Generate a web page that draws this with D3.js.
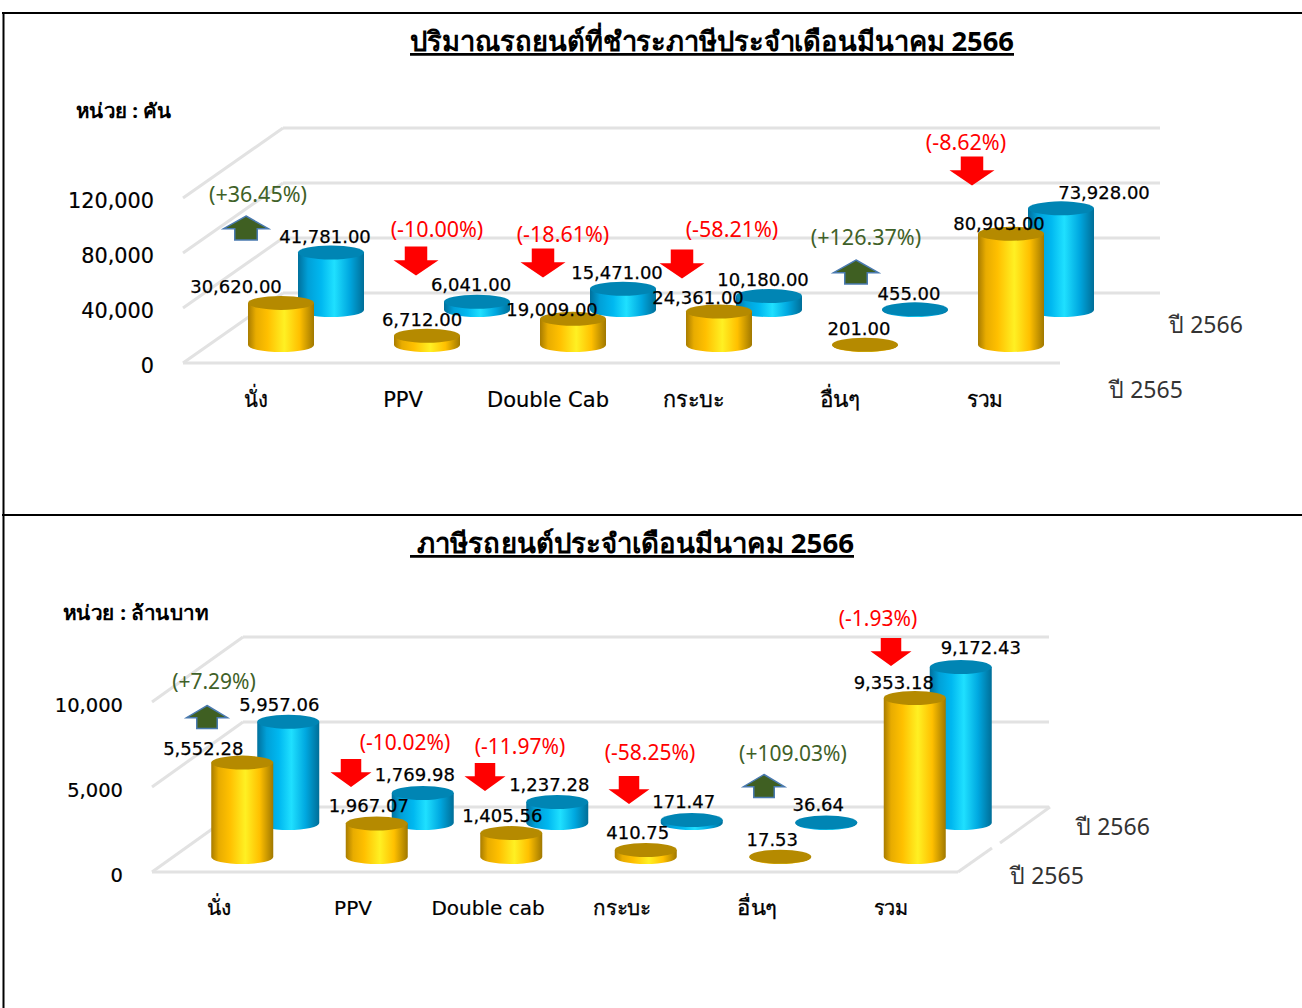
<!DOCTYPE html>
<html><head><meta charset="utf-8"><script src="https://cdn.jsdelivr.net/npm/d3@7"></script>
<style>html,body{margin:0;padding:0;background:#fff}svg{display:block}text{font-family:"Noto Sans",sans-serif}</style></head><body><div id="c"></div>
<script>
const cats1=["นั่ง","PPV","Double Cab","กระบะ","อื่นๆ","รวม"];
const y2565a=[30620,6712,19009,24361,201,80903];
const y2566a=[41781,6041,15471,10180,455,73928];
const lab65a=["30,620.00","6,712.00","19,009.00","24,361.00","201.00","80,903.00"];
const lab66a=["41,781.00","6,041.00","15,471.00","10,180.00","455.00","73,928.00"];
const pctA=["(+36.45%)","(-10.00%)","(-18.61%)","(-58.21%)","(+126.37%)","(-8.62%)"];
const ticksA=[0,40000,80000,120000];
const gridA=[0,40000,80000,120000];
const cats2=["นั่ง","PPV","Double cab","กระบะ","อื่นๆ","รวม"];
const y2565b=[5552.28,1967.07,1405.56,410.75,17.53,9353.18];
const y2566b=[5957.06,1769.98,1237.28,171.47,36.64,9172.43];
const lab65b=["5,552.28","1,967.07","1,405.56","410.75","17.53","9,353.18"];
const lab66b=["5,957.06","1,769.98","1,237.28","171.47","36.64","9,172.43"];
const pctB=["(+7.29%)","(-10.02%)","(-11.97%)","(-58.25%)","(+109.03%)","(-1.93%)"];
const ticksB=[0,5000,10000];
const gridB=[0,5000,10000];
const DV='"DejaVu Sans",sans-serif';
const svg=d3.select("#c").append("svg").attr("width",1302).attr("height",1008);
const defs=svg.append("defs");
function grad(id,st){const g=defs.append("linearGradient").attr("id",id);st.forEach(([o,c])=>g.append("stop").attr("offset",o).attr("stop-color",c));}
grad("gold",[[0,"#a87c00"],[.12,"#e8ac00"],[.3,"#ffc000"],[.55,"#fff023"],[.78,"#ffc000"],[1,"#a07800"]]);
grad("blue",[[0,"#00709c"],[.15,"#00a0d8"],[.35,"#00b8f0"],[.55,"#1fe0ff"],[.78,"#00a8e0"],[1,"#006e98"]]);
[[2,13,1302,13],[2,515,1302,515],[3.5,13,3.5,1008]].forEach(l=>svg.append("line").attr("x1",l[0]).attr("y1",l[1]).attr("x2",l[2]).attr("y2",l[3]).attr("stroke","#000").attr("stroke-width",2));
function T(x,y,t,o={}){
  const e=svg.append("text").attr("x",x).attr("y",y).attr("text-anchor",o.a||"middle").attr("font-size",o.s||20).attr("font-weight",o.w||400).attr("fill",o.f||"#000").attr("text-decoration",o.d||null).attr("xml:space","preserve").text(t);
  if(o.ff)e.style("font-family",o.ff);
  if(o.len)e.attr("textLength",o.len).attr("lengthAdjust","spacingAndGlyphs");
  if(o.bold)e.attr("stroke","#000").attr("stroke-width",o.bold);
  return e;
}
function arrow(cx,cy,up,w,hUp,hDown){
  const g=svg.append("path");const h=up?hUp:hDown,hw=w/2,sw=w/4,hh=h*0.53;
  const s=up?-1:1;
  const tip=cy+s*h/2,base=tip-s*hh,tail=cy-s*h/2;
  g.attr("d",d3.line()([[cx,tip],[cx+hw,base],[cx+sw,base],[cx+sw,tail],[cx-sw,tail],[cx-sw,base],[cx-hw,base]])+"Z");
  if(up)g.attr("fill","#3f5f22").attr("stroke","#4a7ab0").attr("stroke-width",1.5);else g.attr("fill","#ff0000");
}
const GRID="#e2e2e2";
function chart(c){
  const y=d3.scaleLinear().domain([0,c.tickStep]).range([c.floor,c.floor-c.step]);
  const h=v=>y(0)-y(v);
  const x=d3.scaleBand().domain(d3.range(6)).range([c.x0,c.x0+c.band*6]);
  const cx=i=>x(i)+x.bandwidth()/2;
  c.gridVals.forEach(v=>{
    const yy=y(v);
    const gl=svg.append("g").attr("fill","none").attr("stroke",GRID).attr("stroke-width",3);
    gl.append("line").attr("x1",c.left+c.dx).attr("x2",c.right+c.dx).attr("y1",yy-c.dy).attr("y2",yy-c.dy);
    gl.append("line").attr("x1",c.left).attr("x2",c.left+c.dx).attr("y1",yy).attr("y2",yy-c.dy);
  });
  svg.append("line").attr("x1",c.left).attr("x2",c.right).attr("y1",y(0)).attr("y2",y(0)).attr("stroke",GRID).attr("stroke-width",3);
  (c.rightSide||[]).forEach(s=>svg.append("path").attr("d",d3.line()(s)).attr("fill","none").attr("stroke",GRID).attr("stroke-width",3));
  c.ticks.forEach(v=>T(c.tickX,y(v)+c.tickDy,d3.format(",")(v),{a:"end",s:c.tickS,ff:DV,bold:.2}));
  function cyl(px,base,v,fill,top){
    const H=h(v),r=c.r,ry=c.ry;
    svg.append("path").attr("fill",`url(#${fill})`).attr("d",`M${px-r},${base-H}L${px-r},${base}A${r},${ry} 0 0 0 ${px+r},${base}L${px+r},${base-H}Z`);
    svg.append("ellipse").attr("cx",px).attr("cy",base-H).attr("rx",r).attr("ry",ry).attr("fill",top);
  }
  d3.range(6).forEach(i=>cyl(cx(i)+c.off,c.floorB-c.dyB,c.v66[i],"blue","#0085b4"));
  d3.range(6).forEach(i=>cyl(cx(i),c.floorB,c.v65[i],"gold","#b58a00"));
  d3.range(6).forEach(i=>{
    T(cx(i)+c.l65[i][0],c.l65[i][1],c.lab65[i],{s:c.labS,ff:DV,bold:.25});
    T(cx(i)+c.off+c.l66[i][0],c.l66[i][1],c.lab66[i],{s:c.labS,ff:DV,bold:.25});
    const latin=/^[A-Za-z ]+$/.test(c.cats[i]);
    T(c.catX[i],c.catY,c.cats[i],latin?{s:c.catS,ff:DV,bold:.2}:{s:c.catS+1,len:c.catLen[i],bold:.3});
    const up=c.pct[i][1]=="+";
    T(c.pctX[i],c.pctY[i],c.pct[i],{s:c.pctS,f:up?"#3f6128":"#ff0000"});
    arrow(c.arrX[i],c.arrY[i],up,c.arrW,c.hUp,c.hDown);
  });
}
T(712,51,"ปริมาณรถยนต์ที่ชำระภาษีประจำเดือนมีนาคม 2566",{s:27.5,w:700,d:"underline",len:604});
T(76,118,"หน่วย : คัน",{a:"start",s:20,w:700,len:95});
T(1206,333,"ปี 2566",{s:23,f:"#333"});
T(1146,398,"ปี 2565",{s:23,f:"#333"});
chart({tickStep:40000,floor:363,step:55,x0:208,band:146,off:50,left:183,right:1060,dx:100,dy:70,
 gridVals:gridA,ticks:ticksA,tickX:154,tickDy:10,tickS:20.8,floorB:345,dyB:35,r:33,ry:7,
 v65:y2565a,v66:y2566a,lab65:lab65a,lab66:lab66a,cats:cats1,pct:pctA,labS:18,catS:21,pctS:21.5,
 l65:[[-45,293],[-5,326],[-21,316],[-21,304],[-6,335],[-12,230]],
 l66:[[-6,243],[-6,291],[-6,279],[-6,286],[-6,300],[43,199]],
 catX:[256,403,548,694,840,985],catY:407,catLen:[24,0,0,62,41,37],
 pctX:[258,437,563,732,866,966],pctY:[202,237,242,237,245,150],
 arrX:[246,416,543,682,856,972],arrY:[228,261,263,264,272,171],arrW:45,hUp:24,hDown:29
});
T(632,553,"\u00A0ภาษีรถยนต์ประจำเดือนมีนาคม 2566",{s:27.5,w:700,d:"underline",len:444});
T(63,620,"หน่วย : ล้านบาท",{a:"start",s:20,w:700,len:145});
T(1113,835,"ปี 2566",{s:23,f:"#333"});
T(1047,884,"ปี 2565",{s:23,f:"#333"});
chart({tickStep:5000,floor:872,step:85,x0:175,band:134.5,off:46,left:152,right:958,dx:91,dy:65,
 gridVals:gridB,ticks:ticksB,tickX:123,tickDy:10,tickS:19.5,floorB:857,dyB:34,r:31,ry:7,
 rightSide:[[[958,872],[992,848]],[[1000,843],[1050,807]]],
 v65:y2565b,v66:y2566b,lab65:lab65b,lab66:lab66b,cats:cats2,pct:pctB,labS:18,catS:20,pctS:21,
 l65:[[-39,755],[-8,812],[-9,822],[-8,839],[-8,846],[-21,689]],
 l66:[[-9,711],[-8,781],[-8,791],[-8,808],[-8,811],[20,654]],
 catX:[219,353,488,622,757,891],catY:915,catLen:[24,0,0,58,40,35],
 pctX:[214,405,520,650,793,878],pctY:[689,750,754,760,761,626],
 arrX:[207,351,485,629,764,891],arrY:[717,773,777,790,786,652],arrW:41,hUp:23,hDown:28
});
</script></body></html>
